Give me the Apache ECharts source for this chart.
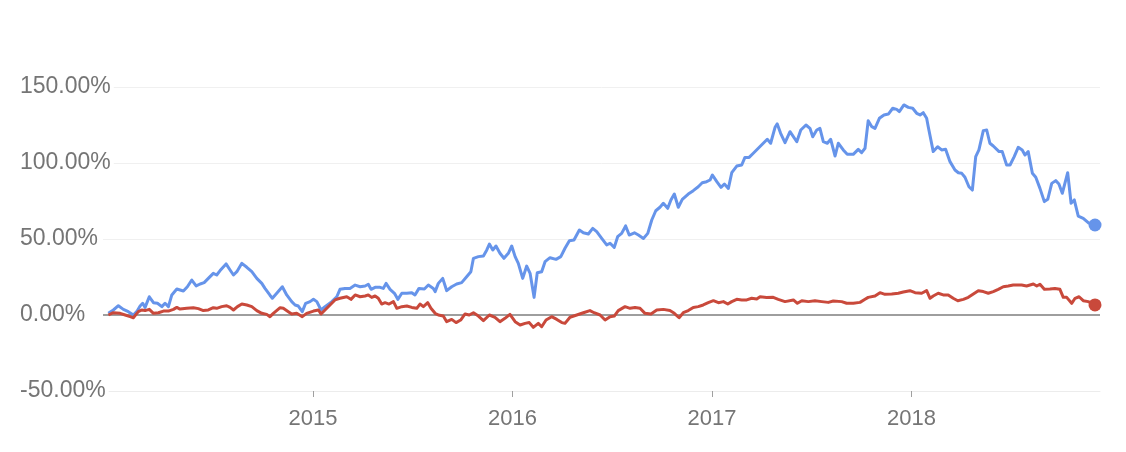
<!DOCTYPE html>
<html>
<head>
<meta charset="utf-8">
<style>
  html, body { margin: 0; padding: 0; background: #ffffff; }
  #chart { width: 1126px; height: 452px; }
</style>
<script src="https://cdn.jsdelivr.net/npm/echarts@6/dist/echarts.min.js"></script>
</head>
<body>
<div id="chart"></div>
<script>
// x values are decimal years, y values are percent change
const xTickYears = [2015, 2016, 2017, 2018];
const yTicks = [-50, 0, 50, 100, 150];

const blueSeries = [
[2013.974,1.1],[2013.999,3.3],[2014.024,6.1],[2014.049,3.7],[2014.074,2.2],[2014.099,0],[2014.116,2.2],[2014.133,5.9],[2014.146,7.7],[2014.158,5.0],
[2014.179,12.0],[2014.200,8.1],[2014.220,7.7],[2014.242,5.5],[2014.258,7.7],[2014.275,5.5],[2014.292,13.2],[2014.317,17.1],[2014.350,15.8],[2014.370,18.6],
[2014.392,23.0],[2014.414,19.1],[2014.434,20.4],[2014.454,21.3],[2014.475,24.1],[2014.500,27.4],[2014.517,26.3],[2014.534,29.2],[2014.564,33.6],[2014.584,29.6],
[2014.601,26.3],[2014.618,28.5],[2014.643,34.0],[2014.668,31.4],[2014.693,28.5],[2014.718,24.1],[2014.743,20.8],[2014.759,17.5],[2014.784,13.0],[2014.796,11.0],
[2014.818,14.3],[2014.846,18.6],[2014.868,13.2],[2014.893,8.8],[2014.910,6.6],[2014.926,5.9],[2014.946,2.2],[2014.963,7.7],[2014.985,8.8],[2015.002,10.3],
[2015.019,8.8],[2015.040,3.3],[2015.060,5.5],[2015.094,8.8],[2015.119,12.0],[2015.135,16.9],[2015.160,17.5],[2015.185,17.5],[2015.211,19.7],[2015.236,18.6],
[2015.261,19.1],[2015.277,20.2],[2015.291,16.9],[2015.311,18.2],[2015.336,18.2],[2015.352,17.5],[2015.366,20.8],[2015.386,16.9],[2015.408,14.3],[2015.425,10.3],
[2015.445,14.3],[2015.470,14.3],[2015.495,14.7],[2015.511,13.2],[2015.531,17.5],[2015.558,17.1],[2015.578,19.7],[2015.603,17.5],[2015.612,15.4],[2015.628,20.8],
[2015.650,24.1],[2015.670,16.0],[2015.695,18.6],[2015.720,20.4],[2015.745,21.3],[2015.770,25.2],[2015.791,28.5],[2015.804,37.3],[2015.829,38.4],[2015.854,38.8],
[2015.871,42.8],[2015.884,46.7],[2015.901,42.8],[2015.917,45.4],[2015.937,40.6],[2015.957,37.3],[2015.979,40.6],[2015.996,45.4],[2016.013,38.4],[2016.029,34.0],
[2016.051,24.1],[2016.071,32.2],[2016.088,27.4],[2016.108,11.6],[2016.124,27.8],[2016.146,28.5],[2016.163,35.1],[2016.188,37.7],[2016.218,36.6],[2016.242,38.4],
[2016.263,43.9],[2016.285,48.9],[2016.308,49.3],[2016.335,55.9],[2016.355,54.1],[2016.380,53.3],[2016.402,57.0],[2016.422,54.8],[2016.447,50.4],[2016.472,46.1],
[2016.489,47.2],[2016.510,44.5],[2016.527,51.5],[2016.547,53.7],[2016.567,58.6],[2016.585,52.6],[2016.611,54.1],[2016.631,52.6],[2016.656,50.4],[2016.678,53.7],
[2016.698,62.5],[2016.718,68.6],[2016.739,70.9],[2016.756,73.5],[2016.778,70.2],[2016.794,75.7],[2016.811,79.6],[2016.831,70.9],[2016.851,76.1],[2016.881,79.6],
[2016.906,81.8],[2016.931,84.4],[2016.951,87.0],[2016.973,87.7],[2016.990,88.8],[2017.002,92.1],[2017.024,87.7],[2017.045,84.0],[2017.062,86.2],[2017.082,83.3],
[2017.099,93.6],[2017.124,98.0],[2017.149,98.7],[2017.165,103.7],[2017.186,103.7],[2017.207,106.4],[2017.232,109.7],[2017.257,113.0],[2017.277,115.6],[2017.294,113.0],
[2017.316,123.5],[2017.327,125.7],[2017.344,119.5],[2017.366,113.4],[2017.391,120.6],[2017.425,114.0],[2017.445,121.7],[2017.471,125.0],[2017.491,122.8],[2017.505,117.3],
[2017.525,121.7],[2017.541,122.8],[2017.558,114.0],[2017.578,113.0],[2017.595,115.6],[2017.617,104.6],[2017.633,113.0],[2017.658,108.6],[2017.678,105.7],[2017.708,105.7],
[2017.733,109.0],[2017.750,106.8],[2017.767,109.7],[2017.783,127.8],[2017.801,123.9],[2017.817,122.8],[2017.839,129.4],[2017.862,131.6],[2017.884,132.2],[2017.906,136.0],
[2017.926,135.3],[2017.939,133.8],[2017.962,138.2],[2017.984,136.6],[2018.006,136.0],[2018.026,132.7],[2018.043,131.6],[2018.059,133.1],[2018.076,129.4],[2018.084,123.9],
[2018.109,107.5],[2018.131,110.7],[2018.151,108.6],[2018.171,109.0],[2018.193,100.9],[2018.218,95.4],[2018.235,93.6],[2018.252,93.2],[2018.268,90.6],[2018.288,84.4],
[2018.305,82.2],[2018.322,104.2],[2018.338,108.6],[2018.360,121.3],[2018.377,121.7],[2018.393,113.0],[2018.410,111.2],[2018.439,107.5],[2018.455,107.5],[2018.477,98.7],
[2018.494,98.7],[2018.515,104.2],[2018.535,110.3],[2018.555,108.6],[2018.569,105.3],[2018.585,107.5],[2018.606,93.2],[2018.623,90.6],[2018.644,83.3],[2018.666,74.6],
[2018.683,76.1],[2018.703,86.6],[2018.723,88.4],[2018.739,86.2],[2018.756,80.1],[2018.769,86.6],[2018.783,93.6],[2018.800,73.5],[2018.816,75.7],[2018.836,65.1],
[2018.861,63.6],[2018.886,60.7],[2018.920,59.2]
];

const redSeries = [
[2013.974,0],[2013.999,1.5],[2014.033,1.1],[2014.058,0],[2014.083,-1.1],[2014.099,-1.8],[2014.124,2.2],[2014.141,3.3],[2014.158,2.9],[2014.179,3.7],
[2014.200,1.1],[2014.225,1.5],[2014.250,2.6],[2014.275,2.6],[2014.300,3.7],[2014.317,5.0],[2014.333,3.9],[2014.367,4.4],[2014.400,4.8],[2014.425,4.2],
[2014.450,2.9],[2014.475,3.3],[2014.500,4.8],[2014.517,4.4],[2014.542,5.5],[2014.567,6.1],[2014.584,5.0],[2014.601,3.3],[2014.621,5.5],[2014.643,7.2],
[2014.668,6.6],[2014.693,5.5],[2014.718,2.9],[2014.743,1.1],[2014.768,0.4],[2014.784,-1.1],[2014.801,1.1],[2014.835,4.8],[2014.851,4.4],[2014.876,2.2],
[2014.893,0.7],[2014.918,1.1],[2014.946,-1.1],[2014.968,1.1],[2015.002,2.6],[2015.027,3.3],[2015.040,0.7],[2015.060,3.3],[2015.085,6.6],[2015.110,9.9],
[2015.135,11.0],[2015.169,12.0],[2015.190,10.3],[2015.211,13.2],[2015.236,12.0],[2015.261,12.5],[2015.277,13.2],[2015.294,11.6],[2015.311,12.5],[2015.327,11.0],
[2015.344,7.2],[2015.361,8.1],[2015.381,7.2],[2015.403,8.8],[2015.420,4.4],[2015.445,5.5],[2015.470,5.9],[2015.495,5.0],[2015.520,4.4],[2015.536,7.2],
[2015.553,5.5],[2015.575,8.1],[2015.591,4.4],[2015.612,1.1],[2015.628,0],[2015.653,-0.7],[2015.670,-4.4],[2015.695,-2.9],[2015.717,-5.0],[2015.740,-3.3],
[2015.762,0.7],[2015.783,0],[2015.804,1.5],[2015.829,-0.7],[2015.854,-3.7],[2015.884,0],[2015.912,-1.5],[2015.937,-4.4],[2015.962,-2.2],[2015.987,0.4],
[2016.013,-4.4],[2016.038,-6.6],[2016.063,-5.5],[2016.084,-5.0],[2016.104,-8.1],[2016.129,-5.5],[2016.146,-7.7],[2016.168,-3.3],[2016.196,-1.1],[2016.222,-2.9],
[2016.247,-5.0],[2016.263,-5.5],[2016.288,-1.5],[2016.322,0],[2016.355,1.5],[2016.388,2.9],[2016.409,1.5],[2016.439,0],[2016.464,-3.3],[2016.489,-1.1],
[2016.510,-0.7],[2016.530,2.9],[2016.564,5.5],[2016.589,4.4],[2016.614,5.0],[2016.639,4.4],[2016.664,1.1],[2016.694,0.7],[2016.723,3.3],[2016.756,3.7],
[2016.789,2.9],[2016.811,1.1],[2016.835,-1.8],[2016.856,1.5],[2016.881,2.9],[2016.906,5.0],[2016.931,5.5],[2016.956,6.6],[2016.981,8.1],[2017.007,9.4],
[2017.032,8.1],[2017.057,8.8],[2017.079,7.2],[2017.099,8.8],[2017.124,10.3],[2017.149,9.9],[2017.174,9.9],[2017.199,11.0],[2017.224,10.5],[2017.241,12.0],
[2017.274,11.5],[2017.307,11.6],[2017.332,10.3],[2017.366,8.8],[2017.408,9.9],[2017.428,7.7],[2017.450,9.4],[2017.483,8.8],[2017.516,9.4],[2017.550,8.8],
[2017.583,8.3],[2017.608,9.2],[2017.650,8.8],[2017.675,7.7],[2017.708,7.7],[2017.742,8.3],[2017.767,10.3],[2017.783,11.6],[2017.817,12.5],[2017.842,14.7],
[2017.867,13.6],[2017.901,13.8],[2017.934,14.3],[2017.959,15.1],[2017.992,16.0],[2018.018,14.7],[2018.051,14.3],[2018.076,16.0],[2018.093,11.0],[2018.109,12.5],
[2018.134,14.3],[2018.159,13.2],[2018.184,13.2],[2018.209,11.0],[2018.232,9.4],[2018.260,10.3],[2018.285,11.6],[2018.310,13.8],[2018.335,16.0],[2018.360,15.4],
[2018.385,14.3],[2018.410,15.4],[2018.435,16.9],[2018.460,18.6],[2018.485,19.1],[2018.510,19.7],[2018.552,19.7],[2018.577,19.1],[2018.611,20.4],[2018.628,19.1],
[2018.644,20.2],[2018.666,16.9],[2018.694,17.1],[2018.719,17.5],[2018.744,16.9],[2018.761,11.6],[2018.778,11.6],[2018.803,7.7],[2018.820,11.0],[2018.840,12.0],
[2018.861,9.4],[2018.886,8.8],[2018.920,6.6]
];

const BLUE = '#6694ea';
const RED = '#c9493b';
const FONT = '"Liberation Sans", Arial, Helvetica, sans-serif';

const chart = echarts.init(document.getElementById('chart'), null, { renderer: 'canvas' });

chart.setOption({
  animation: false,
  backgroundColor: '#ffffff',
  grid: { left: 103, right: 26, top: 87, bottom: 61, containLabel: false },
  xAxis: {
    type: 'value',
    min: 2013.947,
    max: 2018.945,
    axisLine: { show: true, onZero: false, lineStyle: { color: '#ececec', width: 1 } },
    axisTick: {
      show: true,
      customValues: xTickYears,
      length: 6,
      lineStyle: { color: '#a0a0a0', width: 1 }
    },
    axisLabel: {
      customValues: xTickYears,
      formatter: function (v) { return String(Math.round(v)); },
      color: '#757575',
      fontSize: 22,
      fontFamily: FONT,
      margin: 17
    },
    splitLine: { show: false }
  },
  yAxis: {
    type: 'value',
    min: yTicks[0],
    max: yTicks[yTicks.length - 1],
    interval: 50,
    axisLine: { show: false },
    axisTick: { show: false },
    axisLabel: {
      formatter: function (v) { return v.toFixed(2) + '%'; },
      color: '#757575',
      fontSize: 23,
      fontFamily: FONT,
      align: 'left',
      margin: 83,
      backgroundColor: '#ffffff',
      padding: [0, 3, 0, 0]
    },
    splitLine: { show: true, lineStyle: { color: '#f0f0f0', width: 1 } }
  },
  series: [
    {
      name: 'blue',
      type: 'line',
      data: blueSeries,
      showSymbol: false,
      symbol: 'none',
      lineStyle: { color: BLUE, width: 3, join: 'round' },
      itemStyle: { color: BLUE },
      z: 3,
      markLine: {
        silent: true,
        symbol: ['none', 'none'],
        label: { show: false },
        lineStyle: { color: '#9e9e9e', width: 2, type: 'solid' },
        data: [{ yAxis: 0 }],
        z: 1
      }
    },
    {
      name: 'red',
      type: 'line',
      data: redSeries,
      showSymbol: false,
      symbol: 'none',
      lineStyle: { color: RED, width: 3, join: 'round' },
      itemStyle: { color: RED },
      z: 4
    },
    {
      type: 'scatter',
      data: [blueSeries[blueSeries.length - 1]],
      symbol: 'circle',
      symbolSize: 13,
      itemStyle: { color: BLUE, opacity: 1 },
      z: 5
    },
    {
      type: 'scatter',
      data: [redSeries[redSeries.length - 1]],
      symbol: 'circle',
      symbolSize: 13,
      itemStyle: { color: RED, opacity: 1 },
      z: 6
    }
  ]
});
</script>
</body>
</html>
